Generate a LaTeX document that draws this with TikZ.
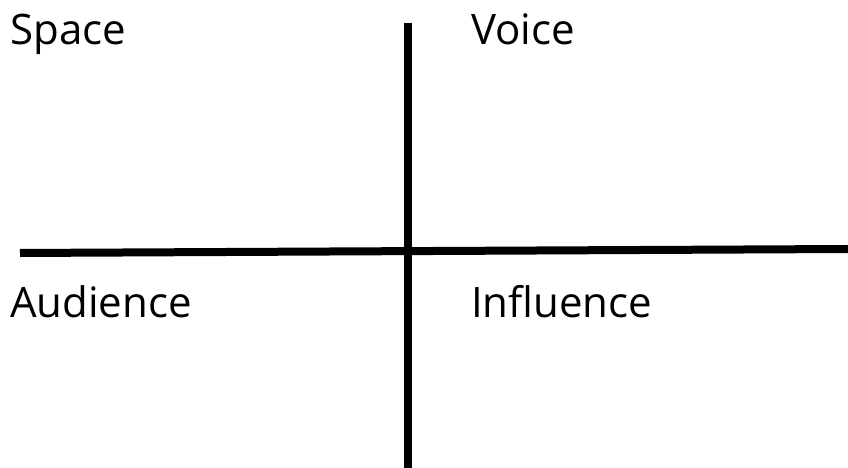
\documentclass[tikz,border=0pt]{standalone}
\usepackage{fontspec}
\setmainfont{Open Sans}
\usepackage{tikz}

\begin{document}
\begin{tikzpicture}[
      x=1pt, y=1pt,
      axis/.style = {line width=8pt, black},
      lbl/.style  = {anchor=base west, inner sep=0pt,
                     font=\fontsize{42}{50}\selectfont},
    ]
    \useasboundingbox (0,0) rectangle (848,468);
    % axes
    \coordinate (top)    at (407.5,445);
    \coordinate (bottom) at (407.5,0);
    \coordinate (left)   at (20,215);
    \coordinate (right)  at (848,219);
    \draw[axis] (top) -- (bottom);
    \draw[axis] (left) -- (right);
    % quadrant labels
    \node[lbl] (space)     at (10,423)  {Space};
    \node[lbl] (voice)     at (471,423) {Voice};
    \node[lbl] (audience)  at (10,150)  {Audience};
    \node[lbl] (influence) at (471,150) {Influence};
  \end{tikzpicture}
\end{document}
